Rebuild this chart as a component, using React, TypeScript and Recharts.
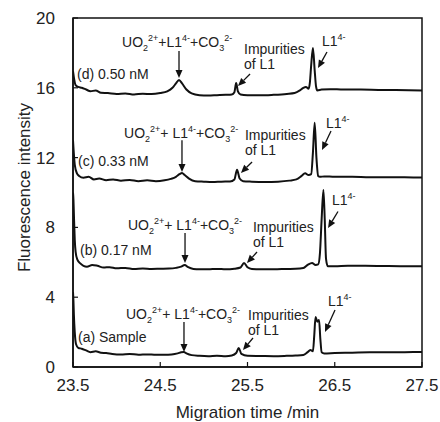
import {
  Label,
  Line,
  LineChart,
  ReferenceArea,
  ReferenceDot,
  ReferenceLine,
  XAxis,
  YAxis,
} from "recharts";

const FONT = "Arial, 'Liberation Sans', sans-serif";
const INK = "#111";

const X_TICKS = [23.5, 24.5, 25.5, 26.5, 27.5];
const Y_TICKS = [0, 4, 8, 12, 16, 20];

// (d) 0.50 nM
const D_TIME = [23.5, 23.51, 23.53, 23.56, 23.6, 23.65, 23.7, 23.76, 23.82, 23.9, 24.0, 24.1, 24.2, 24.3, 24.4, 24.5, 24.58, 24.64, 24.68, 24.715, 24.75, 24.8, 24.86, 24.95, 25.05, 25.15, 25.25, 25.32, 25.35, 25.37, 25.39, 25.42, 25.5, 25.65, 25.8, 25.95, 26.04, 26.1, 26.14, 26.17, 26.2, 26.215, 26.23, 26.25, 26.27, 26.285, 26.3, 26.35, 26.45, 26.6, 26.8, 27.0, 27.2, 27.5];
const D_SIGNAL = [16.95, 16.6, 16.15, 16.05, 16.0, 15.9, 15.8, 15.85, 15.72, 15.7, 15.65, 15.68, 15.62, 15.66, 15.64, 15.7, 15.8, 16.0, 16.25, 16.45, 16.25, 15.9, 15.68, 15.58, 15.56, 15.58, 15.6, 15.62, 15.75, 16.27, 15.8, 15.62, 15.58, 15.57, 15.6, 15.65, 15.7, 15.85, 16.0, 16.05, 15.95, 16.3, 17.3, 18.28, 17.0, 16.1, 15.85, 15.9, 15.92, 15.9, 15.9, 15.88, 15.87, 15.85];

// (c) 0.33 nM
const C_TIME = [23.5, 23.52, 23.545, 23.57, 23.62, 23.68, 23.74, 23.8, 23.88, 23.96, 24.05, 24.15, 24.25, 24.35, 24.45, 24.55, 24.62, 24.68, 24.72, 24.75, 24.78, 24.83, 24.9, 25.0, 25.1, 25.2, 25.3, 25.35, 25.38, 25.41, 25.45, 25.55, 25.7, 25.85, 25.98, 26.06, 26.12, 26.16, 26.2, 26.23, 26.25, 26.27, 26.29, 26.31, 26.33, 26.38, 26.5, 26.7, 26.9, 27.1, 27.3, 27.5];
const C_SIGNAL = [13.0, 11.6, 11.1, 10.95, 10.85, 10.9, 10.75, 10.8, 10.7, 10.75, 10.68, 10.72, 10.65, 10.7, 10.65, 10.7, 10.78, 10.9, 11.05, 11.12, 11.0, 10.8, 10.65, 10.62, 10.6, 10.62, 10.63, 10.75, 11.3, 10.8, 10.65, 10.62, 10.6, 10.62, 10.68, 10.75, 10.95, 11.1, 11.0, 11.05, 12.3, 14.0, 12.0, 10.95, 10.9, 10.92, 10.9, 10.9, 10.88, 10.88, 10.87, 10.86];

// (b) 0.17 nM
const B_TIME = [23.5, 23.505, 23.51, 23.52, 23.53, 23.55, 23.58, 23.62, 23.66, 23.72, 23.78, 23.85, 23.92, 24.0, 24.1, 24.2, 24.3, 24.4, 24.5, 24.6, 24.68, 24.74, 24.78, 24.82, 24.88, 24.95, 25.05, 25.15, 25.25, 25.35, 25.42, 25.46, 25.5, 25.55, 25.65, 25.8, 25.95, 26.05, 26.14, 26.19, 26.24, 26.28, 26.31, 26.33, 26.35, 26.37, 26.385, 26.4, 26.42, 26.5, 26.65, 26.85, 27.05, 27.25, 27.5];
const B_SIGNAL = [10.0, 9.6, 8.8, 7.3, 6.6, 6.15, 5.95, 5.8, 5.75, 5.85, 5.8, 5.7, 5.72, 5.66, 5.68, 5.62, 5.65, 5.62, 5.63, 5.64, 5.68, 5.75, 5.85, 5.72, 5.62, 5.6, 5.6, 5.62, 5.6, 5.63, 5.7, 5.96, 5.72, 5.62, 5.6, 5.6, 5.62, 5.63, 5.67, 5.85, 5.96, 5.85, 5.88, 6.5, 8.5, 10.15, 8.5, 6.2, 5.78, 5.78, 5.8, 5.8, 5.79, 5.78, 5.78];

// (a) Sample
const A_TIME = [23.5, 23.505, 23.51, 23.52, 23.535, 23.56, 23.6, 23.65, 23.7, 23.76, 23.82, 23.88, 23.95, 24.05, 24.15, 24.25, 24.35, 24.45, 24.55, 24.63, 24.7, 24.74, 24.77, 24.8, 24.86, 24.95, 25.05, 25.15, 25.25, 25.32, 25.37, 25.4, 25.43, 25.5, 25.65, 25.8, 25.95, 26.05, 26.14, 26.19, 26.22, 26.25, 26.265, 26.28, 26.3, 26.32, 26.335, 26.35, 26.38, 26.5, 26.7, 26.9, 27.1, 27.3, 27.5];
const A_SIGNAL = [4.3, 3.8, 3.0, 2.0, 1.3, 1.1, 1.05, 0.95, 0.85, 0.9, 0.82, 0.8, 0.75, 0.72, 0.75, 0.7, 0.72, 0.7, 0.7, 0.72, 0.78, 0.84, 0.86, 0.78, 0.68, 0.64, 0.62, 0.64, 0.62, 0.66, 0.8, 1.09, 0.75, 0.64, 0.63, 0.62, 0.64, 0.66, 0.69, 0.85, 0.97, 0.9, 1.8, 2.87, 2.6, 2.7, 1.6, 0.85, 0.78, 0.8, 0.82, 0.84, 0.84, 0.85, 0.86];

// annotations, one entry per trace (d, c, b, a)
const TRACE_NAMES = ["(d) 0.50 nM", "(c) 0.33 nM", "(b) 0.17 nM", "(a) Sample"];
const NAME_X = [23.546, 23.557, 23.58, 23.557];
const NAME_Y = [16.5, 11.52, 6.42, 1.43];

const COMPLEX_X = [24.062, 24.085, 24.13, 24.107];
const COMPLEX_Y = [18.34, 13.12, 7.85, 2.75];
const COMPLEX_SPACED = [false, true, true, true];
const COMPLEX_ARROW_X = [24.715, 24.749, 24.784, 24.772];
const COMPLEX_ARROW_FROM = [18.11, 13.0, 7.68, 2.58];
const COMPLEX_ARROW_TO = [16.56, 11.17, 5.96, 0.86];

const IMP_X = [25.46, 25.471, 25.563, 25.506];
const IMP_Y = [17.94, 13.0, 7.74, 2.69];
const IMP_ARROW = [
  [25.529, 16.79, 25.391, 16.1],
  [25.552, 11.75, 25.425, 11.12],
  [25.609, 6.59, 25.494, 5.96],
  [25.563, 1.66, 25.448, 0.97],
];

const L1_X = [26.354, 26.4, 26.468, 26.423];
const L1_Y = [18.4, 13.7, 9.28, 3.5];
const L1_ARROW = [
  [26.411, 18.05, 26.308, 17.13],
  [26.457, 13.52, 26.354, 12.44],
  [26.537, 8.91, 26.423, 7.97],
  [26.503, 3.27, 26.388, 2.01],
];

const zip = (t: number[], s: number[]) => t.map((x, i) => ({ x, y: s[i] }));
const traces = [zip(D_TIME, D_SIGNAL), zip(C_TIME, C_SIGNAL), zip(B_TIME, B_SIGNAL), zip(A_TIME, A_SIGNAL)];

const arrowShape = (p: any) => {
  const { x1, y1, x2, y2 } = p;
  const ang = Math.atan2(y2 - y1, x2 - x1);
  const len = 8;
  const half = 3.5;
  const bx = x2 - len * Math.cos(ang);
  const by = y2 - len * Math.sin(ang);
  const nx = -Math.sin(ang) * half;
  const ny = Math.cos(ang) * half;
  return (
    <g>
      <line x1={x1} y1={y1} x2={bx} y2={by} stroke={INK} strokeWidth={1.3} />
      <polygon points={`${x2},${y2} ${bx + nx},${by + ny} ${bx - nx},${by - ny}`} fill={INK} />
    </g>
  );
};

const textShape = (lines: string[]) => (p: any) => (
  <text x={p.cx} y={p.cy} fontFamily={FONT} fontSize={14} fill="#222">
    {lines.map((l, i) => (
      <tspan key={i} x={p.cx} dy={i === 0 ? 0 : 15}>{l}</tspan>
    ))}
  </text>
);

const complexShape = (spaced: boolean) => (p: any) => (
  <text x={p.cx} y={p.cy} fontFamily={FONT} fontSize={14} fill="#222">
    <tspan>UO</tspan>
    <tspan fontSize={9} dy={4}>2</tspan>
    <tspan fontSize={9} dy={-10}>2+</tspan>
    <tspan dy={6}>{spaced ? "+ L1" : "+L1"}</tspan>
    <tspan fontSize={9} dy={-6}>4-</tspan>
    <tspan dy={6}>+CO</tspan>
    <tspan fontSize={9} dy={4}>3</tspan>
    <tspan fontSize={9} dy={-10}>2-</tspan>
  </text>
);

const l1Shape = (p: any) => (
  <text x={p.cx} y={p.cy} fontFamily={FONT} fontSize={14} fill="#222">
    <tspan>L1</tspan>
    <tspan fontSize={9} dy={-6}>4-</tspan>
  </text>
);

export default function App() {
  return (
    <div style={{ position: "absolute", left: 0, top: 0, background: "#fff" }}>
      <LineChart width={440} height={422} margin={{ top: 18, right: 18, bottom: 0, left: 0 }}>
        <XAxis
          dataKey="x"
          type="number"
          domain={[23.5, 27.5]}
          ticks={X_TICKS}
          allowDataOverflow
          height={55}
          tickSize={-5}
          tickMargin={17}
          tickFormatter={(v) => v.toFixed(1)}
          tick={{ fontSize: 17, fill: "#222", fontFamily: FONT }}
          axisLine={{ stroke: INK, strokeWidth: 1.5 }}
          tickLine={{ stroke: INK, strokeWidth: 1.2 }}
        >
          <Label value="Migration time /min" position="insideBottom" offset={4} style={{ fontSize: 17, fill: "#222", fontFamily: FONT }} />
        </XAxis>
        <YAxis
          type="number"
          domain={[0, 20]}
          ticks={Y_TICKS}
          allowDataOverflow
          width={73}
          tickSize={-5}
          tickMargin={23}
          tick={{ fontSize: 17, fill: "#222", fontFamily: FONT }}
          axisLine={{ stroke: INK, strokeWidth: 1.5 }}
          tickLine={{ stroke: INK, strokeWidth: 1.2 }}
        >
          <Label value="Fluorescence intensity" angle={-90} position="center" dx={-13} dy={-5} style={{ fontSize: 17, fill: "#222", fontFamily: FONT }} />
        </YAxis>
        <ReferenceArea x1={23.5} x2={27.5} y1={0} y2={20} fill="none" fillOpacity={0} stroke={INK} strokeWidth={1.5} />
        {traces.map((d, i) => (
          <Line
            key={i}
            data={d}
            dataKey="y"
            type="monotone"
            stroke={INK}
            strokeWidth={2}
            dot={false}
            activeDot={false}
            isAnimationActive={false}
          />
        ))}
        {TRACE_NAMES.map((n, i) => (
          <ReferenceDot key={`n${i}`} x={NAME_X[i]} y={NAME_Y[i]} r={0} shape={textShape([n])} />
        ))}
        {COMPLEX_X.map((x, i) => (
          <ReferenceDot key={`c${i}`} x={x} y={COMPLEX_Y[i]} r={0} shape={complexShape(COMPLEX_SPACED[i])} />
        ))}
        {COMPLEX_ARROW_X.map((x, i) => (
          <ReferenceLine key={`ca${i}`} segment={[{ x, y: COMPLEX_ARROW_FROM[i] }, { x, y: COMPLEX_ARROW_TO[i] }]} shape={arrowShape} />
        ))}
        {IMP_X.map((x, i) => (
          <ReferenceDot key={`i${i}`} x={x} y={IMP_Y[i]} r={0} shape={textShape(["Impurities", "of L1"])} />
        ))}
        {IMP_ARROW.map((a, i) => (
          <ReferenceLine key={`ia${i}`} segment={[{ x: a[0], y: a[1] }, { x: a[2], y: a[3] }]} shape={arrowShape} />
        ))}
        {L1_X.map((x, i) => (
          <ReferenceDot key={`l${i}`} x={x} y={L1_Y[i]} r={0} shape={l1Shape} />
        ))}
        {L1_ARROW.map((a, i) => (
          <ReferenceLine key={`la${i}`} segment={[{ x: a[0], y: a[1] }, { x: a[2], y: a[3] }]} shape={arrowShape} />
        ))}
      </LineChart>
    </div>
  );
}
